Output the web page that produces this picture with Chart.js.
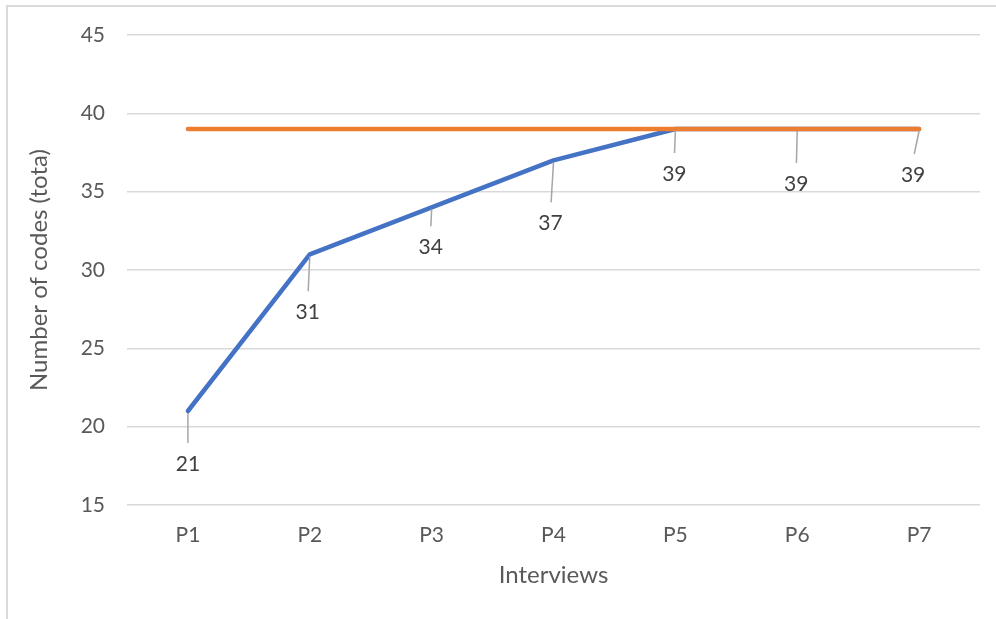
<!DOCTYPE html>
<html>
<head>
<meta charset="utf-8">
<script src="https://cdn.jsdelivr.net/npm/chart.js@4"></script>
<style>
  html, body { margin: 0; padding: 0; background: #fff; }
  #wrap { width: 996px; height: 619px; position: relative; }
</style>
</head>
<body>
<div id="wrap"><canvas id="codesChart" width="996" height="619"></canvas></div>
<script>
var interviews = ['P1', 'P2', 'P3', 'P4', 'P5', 'P6', 'P7'];
var totalCodes = [21, 31, 34, 37, 39, 39, 39];
var saturation = [39, 39, 39, 39, 39, 39, 39];

// where each value label sits relative to its point (px)
var labelShiftX = [0, -2, -1, -3, -1, -1, -6];
var labelShiftY = [52, 57, 39, 62, 44, 54, 45];

var FONT = 'Lato, "Liberation Sans", sans-serif';

var frame = {
    id: 'frame',
    beforeDraw: function(chart) {
        var c = chart.ctx;
        c.save();
        c.fillStyle = '#ffffff';
        c.fillRect(0, 0, chart.width, chart.height);
        c.strokeStyle = '#d9d9d9';
        c.lineWidth = 2;
        c.strokeRect(7, 6, chart.width + 20, chart.height + 20);
        c.restore();
    }
};

var leaderLabels = {
    id: 'leaderLabels',
    afterDatasetsDraw: function(chart) {
        var c = chart.ctx;
        var meta = chart.getDatasetMeta(0);
        c.save();
        c.font = '21px ' + FONT;
        c.fillStyle = '#404040';
        c.textAlign = 'center';
        c.textBaseline = 'middle';
        meta.data.forEach(function(pt, i) {
            var lx = pt.x + labelShiftX[i];
            var ly = pt.y + labelShiftY[i];
            c.strokeStyle = '#a6a6a6';
            c.lineWidth = 1.5;
            c.beginPath();
            c.moveTo(pt.x, pt.y + 2);
            c.lineTo(lx + (pt.x - lx) * 0.2, ly - 20);
            c.stroke();
            c.fillText(String(totalCodes[i]), lx, ly + 1);
        });
        c.restore();
    }
};

var ctx = document.getElementById('codesChart').getContext('2d');
var codesChart = new Chart(ctx, {
    type: 'line',
    data: {
        labels: interviews,
        datasets: [{
            label: 'Total codes',
            data: totalCodes,
            borderColor: '#4472c4',
            borderWidth: 4.5,
            borderCapStyle: 'round',
            borderJoinStyle: 'round',
            pointRadius: 0,
            tension: 0,
            order: 1
        }, {
            label: 'Saturation',
            data: saturation,
            borderColor: '#ed7d31',
            borderWidth: 4.5,
            borderCapStyle: 'round',
            pointRadius: 0,
            tension: 0,
            order: 0
        }]
    },
    options: {
        responsive: false,
        animation: false,
        layout: {
            padding: { top: 35, right: 16, left: 0, bottom: 0 }
        },
        plugins: {
            legend: { display: false },
            tooltip: { enabled: false }
        },
        scales: {
            x: {
                offset: true,
                grid: { display: false, drawTicks: false },
                border: { display: false },
                ticks: {
                    color: '#595959',
                    font: { family: FONT, size: 21 },
                    padding: 18
                },
                title: {
                    display: true,
                    text: 'Interviews',
                    color: '#595959',
                    font: { family: FONT, size: 24 },
                    padding: { top: 0, bottom: 29 }
                },
                afterFit: function(scale) { scale.height = 114; }
            },
            y: {
                min: 15,
                max: 45,
                ticks: {
                    stepSize: 5,
                    color: '#595959',
                    font: { family: FONT, size: 21 },
                    padding: 22
                },
                grid: {
                    color: '#d9d9d9',
                    lineWidth: 1.5,
                    drawTicks: false
                },
                border: { display: false },
                title: {
                    display: true,
                    text: 'Number of codes (tota)',
                    color: '#595959',
                    font: { family: FONT, size: 24 },
                    padding: { top: 25, bottom: 0 }
                },
                afterFit: function(scale) { scale.width = 127; }
            }
        }
    },
    plugins: [frame, leaderLabels]
});
</script>
</body>
</html>
